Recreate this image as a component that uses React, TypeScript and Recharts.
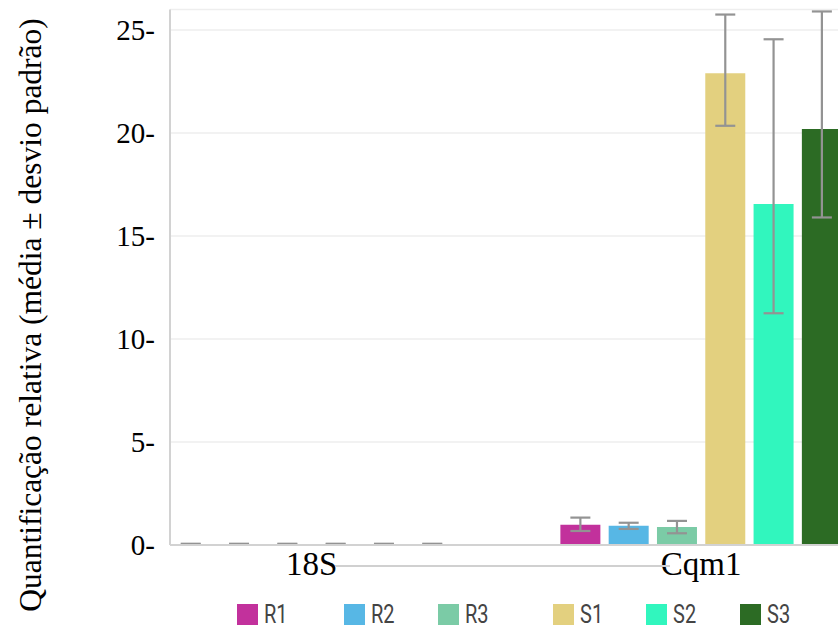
import { BarChart, Bar, XAxis, YAxis, CartesianGrid, ErrorBar } from 'recharts';

const CATEGORIES = ['18S', 'Cqm1'];
const SERIES = ['R1', 'R2', 'R3', 'S1', 'S2', 'S3'];

// mean values per series, in category order
const R1 = [0.02, 0.98];
const R2 = [0.02, 0.93];
const R3 = [0.02, 0.87];
const S1 = [0.02, 22.9];
const S2 = [0.02, 16.55];
const S3 = [0.02, 20.2];

// [below, above] deviation per category
const R1_ERR = [[0, 0.04], [0.3, 0.35]];
const R2_ERR = [[0, 0.04], [0.15, 0.15]];
const R3_ERR = [[0, 0.04], [0.3, 0.3]];
const S1_ERR = [[0, 0.04], [2.55, 2.85]];
const S2_ERR = [[0, 0.04], [5.3, 8.0]];
const S3_ERR = [[0, 0.04], [4.3, 5.7]];

const Y_TICKS = [0, 5, 10, 15, 20, 25];

const COLORS: Record<string, string> = {
  R1: '#C2319C',
  R2: '#57B7E5',
  R3: '#7BCBA6',
  S1: '#E3D07F',
  S2: '#31F6BE',
  S3: '#2C6B24',
};

const VALUES: Record<string, number[]> = { R1, R2, R3, S1, S2, S3 };
const ERRORS: Record<string, number[][]> = {
  R1: R1_ERR,
  R2: R2_ERR,
  R3: R3_ERR,
  S1: S1_ERR,
  S2: S2_ERR,
  S3: S3_ERR,
};

const chartData = CATEGORIES.map((name, i) => {
  const row: Record<string, any> = { name };
  SERIES.forEach((s) => {
    row[s] = VALUES[s][i];
    row[`${s}_err`] = ERRORS[s][i];
  });
  return row;
});

// legend square left edges (layout only)
const LEGEND_LEFT = [237, 344, 438, 553, 646, 740];

const SERIF = '"Liberation Serif", "Times New Roman", serif';

function App() {
  return (
    <div
      style={{
        position: 'fixed',
        left: 0,
        top: 0,
        width: 838,
        height: 635,
        overflow: 'hidden',
        background: '#fff',
      }}
    >
      <BarChart
        width={900}
        height={635}
        data={chartData}
        margin={{ top: 9.4, right: 4, left: 70, bottom: 45 }}
        barGap={8.3}
      >
        <CartesianGrid vertical={false} stroke="#EEEEEE" strokeWidth={1.5} />
        <XAxis
          dataKey="name"
          height={45}
          padding={{ left: -53.25, right: 0 }}
          tickLine={false}
          axisLine={{ stroke: '#D2D2D2', strokeWidth: 2 }}
          tick={{ fontSize: 33, fill: '#000', fontFamily: SERIF }}
          tickMargin={1}
          interval={0}
        />
        <YAxis
          width={100}
          domain={[0, 26]}
          ticks={Y_TICKS}
          tickFormatter={(v) => `${v}-`}
          tickLine={false}
          tickSize={0}
          tickMargin={15}
          axisLine={{ stroke: '#D2D2D2', strokeWidth: 2 }}
          tick={{ fontSize: 29, fill: '#000', fontFamily: SERIF }}
        />
        {SERIES.map((s) => (
          <Bar key={s} dataKey={s} fill={COLORS[s]} barSize={40} isAnimationActive={false}>
            <ErrorBar
              dataKey={`${s}_err`}
              width={10}
              stroke="#939393"
              strokeWidth={2.2}
              direction="y"
            />
          </Bar>
        ))}
      </BarChart>
      <div
        style={{
          position: 'absolute',
          left: 31,
          top: 315,
          transform: 'translate(-50%, -50%) rotate(-90deg)',
          whiteSpace: 'nowrap',
          fontFamily: SERIF,
          fontSize: 31.5,
          lineHeight: 1,
          color: '#000',
        }}
      >
        Quantificação relativa (média ± desvio padrão)
      </div>
      <div
        style={{
          position: 'absolute',
          left: 335,
          top: 565,
          width: 335,
          height: 2,
          background: '#D0D0D0',
        }}
      />
      {SERIES.map((s, i) => (
        <div
          key={s}
          style={{
            position: 'absolute',
            left: LEGEND_LEFT[i],
            top: 600,
            display: 'flex',
            alignItems: 'center',
            fontFamily: 'Roboto, sans-serif',
            fontSize: 25,
            color: '#444',
          }}
        >
          <span
            style={{
              display: 'inline-block',
              width: 21,
              height: 21,
              background: COLORS[s],
              marginRight: 6,
            }}
          />
          <span style={{ transform: 'scaleX(0.8)', transformOrigin: 'left center' }}>{s}</span>
        </div>
      ))}
    </div>
  );
}

export default App;
